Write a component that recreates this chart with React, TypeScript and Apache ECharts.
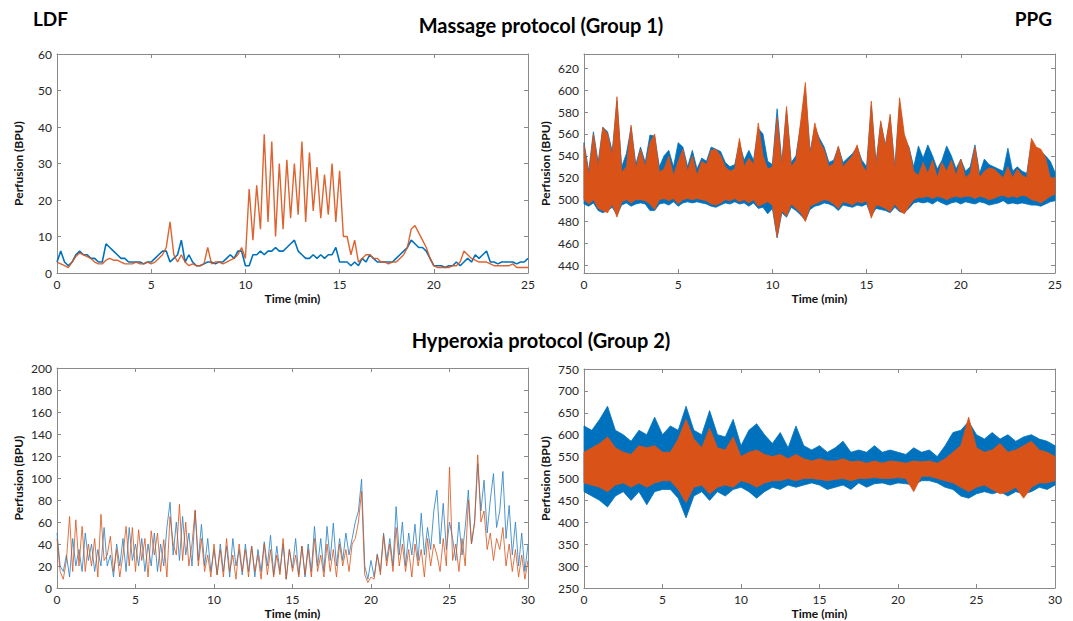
import React, { useEffect, useRef } from "react";
import * as echarts from "echarts";

const BLUE = "#0072BD";
const ORANGE = "#D95319";
const FONT = "Lato";
const AX = "#8a8a8a";
const LBL = "#262626";

// Massage protocol, LDF (step 0.2 min, 0..25)
const ldf1Step = 0.2;
const ldf1Blue = [
  3, 6, 3, 2, 3,
  5, 6, 5, 5, 4,
  4, 3, 3, 8, 7,
  6, 5, 4, 4, 3,
  3, 3, 3, 2.5, 3,
  3, 4, 5, 6, 6,
  3, 4, 5, 9, 3,
  5, 3, 2, 2, 2.5,
  3, 3, 2.5, 3, 3,
  4, 5, 4, 6, 6,
  2, 2, 5, 5, 6,
  5, 6, 6, 7, 6,
  6, 7, 8, 9, 6,
  5, 4, 4, 5, 4,
  5, 4, 5, 5, 7,
  3, 3, 3, 2, 3,
  2, 4, 3, 5, 4,
  3, 3, 3, 3, 3,
  4, 5, 6, 7, 9,
  8, 7, 7, 6, 4,
  2, 2, 2, 1.5, 2,
  2, 3, 2, 3, 4,
  3, 5, 4, 5, 6,
  3, 3, 2.5, 3, 3,
  3, 3, 2.5, 3, 3,
  4,
];
const ldf1Orange = [
  3, 2.5, 2, 1.5, 3,
  4.5, 5.5, 5, 4.5, 4,
  3, 2.5, 2.5, 3.5, 4,
  3.5, 3.5, 3, 2.5, 2.5,
  2.5, 3, 2.5, 2.5, 3,
  2.5, 3, 4, 5, 7,
  14, 5, 3, 5, 3,
  2, 2.5, 2, 2, 2.5,
  7, 2.5, 3, 3, 2.5,
  3, 3.5, 4, 5, 7,
  4, 23, 9, 24, 12,
  38, 14, 36, 10, 30,
  12, 31, 15, 30, 16,
  36, 14, 33, 17, 29,
  15, 27, 16, 30, 14,
  28, 10, 10, 5, 9,
  3, 4, 5, 5, 4,
  4, 3, 3, 2.5, 3,
  3, 4, 5, 7, 12,
  13, 11, 9, 7, 4,
  2, 1.5, 1.5, 1.5, 1.5,
  2, 2, 3, 6, 5,
  4, 3.5, 3, 3, 3,
  2.5, 2, 2, 2, 2,
  2, 2.5, 1.5, 1.5, 1.5,
  1.5,
];

// Massage protocol, PPG envelopes (step 0.25 min, 0..25)
const ppg1Step = 0.25;
const ppg1BlueUpper = [
  552, 526, 562, 534, 566, 562, 544, 590, 530, 542, 566, 532, 548, 534, 559, 558,
  530, 540, 545, 530, 552, 548, 530, 545, 528, 538, 535, 548, 546, 544, 534, 530,
  532, 552, 536, 545, 536, 565, 560, 535, 532, 583, 534, 582, 534, 540, 568, 600,
  544, 566, 556, 548, 534, 536, 548, 534, 538, 542, 548, 536, 530, 586, 534, 570,
  550, 575, 530, 588, 556, 548, 530, 549, 538, 550, 540, 528, 536, 549, 540, 528,
  537, 526, 530, 550, 524, 537, 532, 530, 528, 526, 547, 526, 530, 526, 524, 552,
  546, 544, 540, 535, 525,
];
const ppg1BlueLower = [
  496, 494, 497, 490, 488, 490, 493, 486, 495, 497, 494, 496, 497, 496, 490, 490,
  496, 497, 495, 498, 494, 497, 498, 497, 498, 497, 496, 494, 493, 495, 497, 496,
  498, 496, 497, 494, 497, 492, 493, 487, 492, 465, 488, 484, 493, 490, 486, 481,
  491, 494, 495, 497, 496, 494, 490, 495, 494, 493, 495, 494, 496, 485, 492, 491,
  490, 488, 493, 489, 488, 492, 497, 498, 497, 498, 496, 499, 497, 495, 497, 498,
  496, 498, 497, 496, 498, 497, 495, 496, 497, 499, 496, 497, 496, 497, 496, 495,
  495, 494, 496, 498, 499,
];
const ppg1OrangeUpper = [
  550, 522, 560, 530, 566, 560, 540, 594, 525, 530, 568, 528, 546, 530, 552, 560,
  525, 528, 540, 522, 535, 546, 526, 540, 522, 535, 532, 545, 546, 540, 530, 526,
  528, 556, 530, 538, 532, 570, 540, 528, 530, 575, 530, 585, 530, 536, 571, 607,
  540, 570, 553, 545, 530, 533, 549, 530, 535, 540, 550, 532, 525, 590, 530, 572,
  548, 578, 526, 593, 560, 547, 526, 522, 534, 524, 536, 520, 534, 526, 536, 522,
  537, 520, 524, 548, 520, 526, 529, 528, 524, 520, 530, 520, 528, 522, 520, 556,
  548, 546, 538, 520, 520,
];
const ppg1OrangeLower = [
  500, 496, 500, 492, 490, 488, 496, 484, 498, 500, 497, 500, 500, 499, 496, 491,
  500, 501, 499, 501, 496, 500, 501, 500, 501, 500, 499, 496, 495, 497, 500, 499,
  501, 498, 500, 497, 500, 494, 496, 498, 495, 466, 490, 485, 496, 492, 488, 480,
  494, 496, 498, 500, 499, 496, 492, 498, 497, 495, 498, 497, 499, 483, 495, 494,
  492, 489, 496, 490, 487, 494, 500, 502, 502, 503, 501, 503, 502, 500, 502, 503,
  502, 503, 503, 501, 503, 502, 500, 501, 503, 504, 502, 503, 502, 504, 503, 500,
  499, 497, 500, 503, 505,
];

// Hyperoxia protocol, LDF (step 0.2 min, 0..30)
const ldf2Step = 0.2;
const ldf2Blue = [
  50, 20, 15, 30, 10, 45, 20, 35, 15, 50, 25,
  40, 15, 35, 20, 55, 20, 30, 10, 40, 20,
  45, 15, 55, 25, 40, 20, 45, 15, 40, 20,
  50, 15, 40, 20, 55, 78, 30, 60, 25, 65,
  30, 50, 20, 70, 25, 58, 20, 45, 15, 35,
  12, 40, 15, 38, 10, 45, 20, 35, 12, 40,
  15, 38, 10, 35, 15, 42, 20, 48, 12, 38,
  15, 40, 8, 35, 18, 45, 12, 38, 10, 40,
  15, 56, 20, 45, 15, 56, 25, 59, 20, 45,
  25, 50, 30, 45, 60, 70, 99, 20, 8, 25,
  10, 31, 15, 50, 25, 45, 20, 74, 30, 60,
  20, 50, 30, 58, 25, 68, 30, 55, 35, 70,
  89, 40, 77, 35, 60, 45, 25, 60, 30, 55,
  89, 40, 60, 113, 70, 98, 50, 80, 104, 55,
  70, 106, 45, 75, 30, 60, 20, 50, 15, 40,
];
const ldf2Orange = [
  45, 15, 8, 25, 65, 15, 62, 20, 56, 15, 40,
  20, 45, 10, 67, 25, 30, 47, 15, 35, 10,
  30, 56, 20, 55, 15, 53, 25, 45, 10, 52,
  30, 50, 15, 44, 10, 65, 40, 30, 76, 25,
  60, 20, 40, 71, 20, 45, 15, 30, 10, 40,
  12, 35, 10, 45, 15, 30, 8, 40, 15, 35,
  10, 38, 15, 30, 8, 40, 12, 35, 10, 30,
  12, 45, 8, 35, 15, 30, 10, 38, 12, 35,
  10, 45, 15, 30, 10, 40, 15, 35, 10, 40,
  20, 35, 15, 40, 45, 60, 88, 12, 5, 10,
  8, 30, 12, 48, 20, 40, 15, 55, 20, 40,
  15, 35, 10, 40, 20, 35, 10, 45, 20, 40,
  30, 15, 45, 20, 110, 25, 40, 15, 45, 20,
  80, 40, 60, 121, 60, 70, 35, 50, 25, 45,
  35, 55, 20, 40, 15, 35, 10, 30, 8, 25,
];

// Hyperoxia protocol, PPG envelopes (step 0.5 min, 0..30)
const ppg2Step = 0.5;
const ppg2BlueUpper = [
  620, 610, 635, 665, 610, 600, 585, 610, 600, 640,
  600, 620, 610, 665, 610, 600, 655, 600, 595, 635,
  575, 610, 625, 600, 580, 605, 570, 620, 575, 565,
  575, 560, 570, 585, 560, 565, 560, 575, 560, 565,
  560, 555, 570, 560, 565, 550, 575, 605, 610, 630,
  600, 590, 605, 590, 600, 585, 595, 600, 590, 585,
  575,
];
const ppg2BlueLower = [
  470, 460, 450, 435, 460, 470, 450, 470, 440, 470,
  475, 475, 455, 410, 460, 470, 450, 470, 460, 475,
  480, 470, 455, 470, 480, 475, 485, 480, 485, 490,
  485, 475, 480, 485, 475, 490, 480, 488, 490, 485,
  490, 488, 485, 495, 495, 490, 480, 475, 460, 455,
  465, 470, 465, 470, 460, 470, 465, 470, 480, 475,
  485,
];
const ppg2OrangeUpper = [
  560, 570, 580, 595, 570, 560, 555, 575, 570, 575,
  560, 560, 590, 635, 590, 570, 615, 570, 565, 595,
  550, 560, 565, 555, 550, 555, 545, 555, 545, 540,
  545, 540, 540, 545, 538, 540, 535, 540, 535, 540,
  538, 535, 540, 538, 540, 535, 545, 560, 575, 640,
  570, 560, 565, 580, 560, 565, 575, 585, 565, 560,
  550,
];
const ppg2OrangeLower = [
  490, 485, 480, 470, 485, 490, 480, 490, 480, 490,
  495, 495, 475, 445, 480, 485, 465, 480, 485, 480,
  495, 490, 480, 490, 495, 495, 500, 495, 500, 500,
  498, 495, 498, 500, 495, 500, 500, 502, 500, 500,
  502, 500, 470, 505, 505, 500, 495, 490, 480, 470,
  480, 485, 475, 465, 470, 480, 455, 480, 490, 490,
  495,
];

const ppg1Ticks = [440, 460, 480, 500, 520, 540, 560, 580, 600, 620];

const pairs = (vals: number[], step: number) =>
  vals.map((v, i) => [Math.round(i * step * 1000) / 1000, v]);

function lineSeries(g: number, vals: number[], step: number, color: string, width: number, opacity: number, z: number) {
  return {
    type: "line",
    xAxisIndex: 2 * g,
    yAxisIndex: 2 * g,
    data: pairs(vals, step),
    showSymbol: false,
    symbol: "none",
    silent: true,
    z,
    lineStyle: { color, width, opacity },
  };
}

function bandSeries(g: number, lower: number[], upper: number[], step: number, color: string, z: number) {
  return {
    type: "custom",
    xAxisIndex: 2 * g,
    yAxisIndex: 2 * g,
    silent: true,
    z,
    data: [[0, lower[0]]],
    renderItem: (_params: any, api: any) => {
      const top = upper.map((v, i) => api.coord([i * step, v]));
      const bot = lower.map((v, i) => api.coord([i * step, v])).reverse();
      return {
        type: "polygon",
        shape: { points: top.concat(bot) },
        style: { fill: color, stroke: color, lineWidth: 0.8 },
      };
    },
  };
}

function xPair(g: number, max: number) {
  const common = {
    type: "value",
    gridIndex: g,
    min: 0,
    max,
    interval: 5,
    splitLine: { show: false },
    axisLine: { show: true, onZero: false, lineStyle: { color: AX, width: 1 } },
    axisTick: { show: true, inside: true, length: 4, lineStyle: { color: AX } },
  };
  return [
    {
      ...common,
      position: "bottom",
      name: "Time (min)",
      nameLocation: "middle",
      nameGap: 19,
      nameTextStyle: { fontFamily: FONT, fontWeight: "bold", fontSize: 12, color: "#111" },
      axisLabel: { fontFamily: FONT, fontSize: 12, color: LBL, margin: 5 },
    },
    { ...common, position: "top", axisLabel: { show: false } },
  ];
}

function yPair(g: number, min: number, max: number, interval: number | null, custom?: number[]) {
  const common: any = {
    type: "value",
    gridIndex: g,
    min,
    max,
    splitLine: { show: false },
    axisLine: { show: true, onZero: false, lineStyle: { color: AX, width: 1 } },
    axisTick: { show: true, inside: true, length: 4, lineStyle: { color: AX } },
  };
  if (interval) common.interval = interval;
  if (custom) common.axisTick = { ...common.axisTick, customValues: custom };
  return [
    {
      ...common,
      position: "left",
      name: "Perfusion (BPU)",
      nameLocation: "middle",
      nameGap: 33,
      nameTextStyle: { fontFamily: FONT, fontWeight: "bold", fontSize: 12, color: "#111" },
      axisLabel: custom
        ? { fontFamily: FONT, fontSize: 12, color: LBL, margin: 5, customValues: custom }
        : { fontFamily: FONT, fontSize: 12, color: LBL, margin: 5 },
    },
    { ...common, position: "right", axisLabel: { show: false } },
  ];
}

export default function App() {
  const ref = useRef<HTMLDivElement>(null);
  useEffect(() => {
    if (!ref.current) return;
    const chart = echarts.init(ref.current, undefined, { renderer: "svg" });
    const titleStyle = { fontFamily: FONT, fontWeight: "bold", fontSize: 19, fill: "#000" };
    chart.setOption({
      animation: false,
      backgroundColor: "#fff",
      grid: [
        { left: 57, top: 54, width: 471, height: 219 },
        { left: 584, top: 54, width: 471, height: 219 },
        { left: 57, top: 368, width: 471, height: 220 },
        { left: 584, top: 369, width: 471, height: 219 },
      ],
      xAxis: [...xPair(0, 25), ...xPair(1, 25), ...xPair(2, 30), ...xPair(3, 30)],
      yAxis: [
        ...yPair(0, 0, 60, 10),
        ...yPair(1, 433, 633, null, ppg1Ticks),
        ...yPair(2, 0, 200, 20),
        ...yPair(3, 250, 750, 50),
      ],
      graphic: [
        { type: "text", x: 33, y: 18, style: { ...titleStyle, text: "LDF", align: "left", verticalAlign: "middle" } },
        { type: "text", x: 1052, y: 18, style: { ...titleStyle, text: "PPG", align: "right", verticalAlign: "middle" } },
        { type: "text", x: 541, y: 25, style: { ...titleStyle, fontSize: 20, text: "Massage protocol (Group 1)", align: "center", verticalAlign: "middle" } },
        { type: "text", x: 541, y: 340, style: { ...titleStyle, fontSize: 20, text: "Hyperoxia protocol (Group 2)", align: "center", verticalAlign: "middle" } },
      ],
      series: [
        lineSeries(0, ldf1Blue, ldf1Step, BLUE, 1.6, 1, 2),
        lineSeries(0, ldf1Orange, ldf1Step, ORANGE, 1.4, 0.9, 3),
        bandSeries(1, ppg1BlueLower, ppg1BlueUpper, ppg1Step, BLUE, 2),
        bandSeries(1, ppg1OrangeLower, ppg1OrangeUpper, ppg1Step, ORANGE, 3),
        lineSeries(2, ldf2Blue, ldf2Step, "#2f86c6", 1, 0.85, 2),
        lineSeries(2, ldf2Orange, ldf2Step, ORANGE, 1, 0.8, 3),
        bandSeries(3, ppg2BlueLower, ppg2BlueUpper, ppg2Step, BLUE, 2),
        bandSeries(3, ppg2OrangeLower, ppg2OrangeUpper, ppg2Step, ORANGE, 3),
      ],
    });
    return () => chart.dispose();
  }, []);
  return (
    <div
      ref={ref}
      style={{ position: "fixed", left: 0, top: 0, width: 1073, height: 621, background: "#fff" }}
    />
  );
}
